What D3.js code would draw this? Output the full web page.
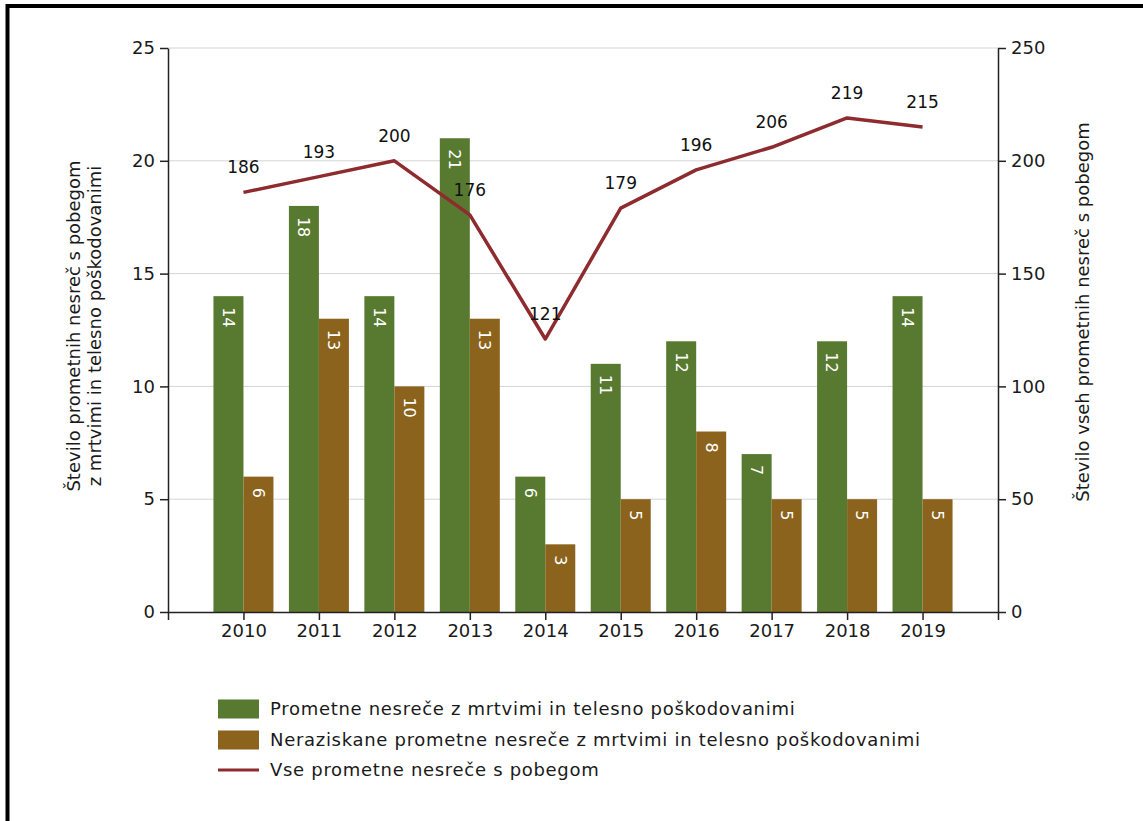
<!DOCTYPE html>
<html>
<head>
<meta charset="utf-8">
<script src="https://cdn.jsdelivr.net/npm/d3@7"></script>
<style>
  html, body { margin: 0; padding: 0; background: #fff; }
  svg text { font-family: "DejaVu Sans", Verdana, sans-serif; }
</style>
</head>
<body>
<svg id="chart" width="1143" height="821"></svg>
<script>
const years = ["2010","2011","2012","2013","2014","2015","2016","2017","2018","2019"];
const accidents = [14, 18, 14, 21, 6, 11, 12, 7, 12, 14];
const unsolved = [6, 13, 10, 13, 3, 5, 8, 5, 5, 5];
const allHitRun = [186, 193, 200, 176, 121, 179, 196, 206, 219, 215];
const leftTicks = [0, 5, 10, 15, 20, 25];
const rightTicks = [0, 50, 100, 150, 200, 250];
const seriesNames = [
  "Prometne nesreče z mrtvimi in telesno poškodovanimi",
  "Neraziskane prometne nesreče z mrtvimi in telesno poškodovanimi",
  "Vse prometne nesreče s pobegom"
];
const leftTitle = ["Število prometnih nesreč s pobegom", "z mrtvimi in telesno poškodovanimi"];
const rightTitle = "Število vseh prometnih nesreč s pobegom";

const colors = { green: "#577a30", brown: "#8b631c", line: "#8e2b2e" };

const svg = d3.select("#chart");
const pLeft = 168, pRight = 998, pTop = 48, pBottom = 612;

// frame (left & top edges)
svg.append("path").attr("d", `M7.5,821V6H1143`).attr("fill", "none")
  .attr("stroke", "#000").attr("stroke-width", 4);

const x = d3.scalePoint().domain(years).range([pLeft, pRight]).padding(1);
const yL = d3.scaleLinear().domain([0, 25]).range([pBottom, pTop]);
const yR = d3.scaleLinear().domain([0, 250]).range([pBottom, pTop]);
const sub = d3.scaleBand().domain(["a", "b"]).range([-30, 30]);

// gridlines
svg.append("g").selectAll("line").data(leftTicks.filter(d => d > 0)).join("line")
  .attr("x1", pLeft).attr("x2", pRight)
  .attr("y1", d => yL(d)).attr("y2", d => yL(d))
  .attr("stroke", "#d4d4d4").attr("stroke-width", 1);

// bars
const barData = years.flatMap((y, i) => [
  { year: y, key: "a", v: accidents[i], c: colors.green },
  { year: y, key: "b", v: unsolved[i], c: colors.brown }
]);
svg.append("g").selectAll("rect").data(barData).join("rect")
  .attr("x", d => x(d.year) + sub(d.key))
  .attr("width", sub.bandwidth())
  .attr("y", d => yL(d.v))
  .attr("height", d => pBottom - yL(d.v))
  .attr("fill", d => d.c);

// bar labels (rotated)
svg.append("g").selectAll("text").data(barData).join("text")
  .attr("transform", d => `translate(${x(d.year) + sub(d.key) + sub.bandwidth() / 2},${yL(d.v) + 11}) rotate(90)`)
  .attr("dy", "0.35em")
  .attr("text-anchor", "start")
  .attr("fill", "#fff")
  .attr("font-size", 16)
  .text(d => d.v);

// line
const line = d3.line().x((d, i) => x(years[i])).y(d => yR(d));
svg.append("path").datum(allHitRun).attr("d", line)
  .attr("fill", "none").attr("stroke", colors.line).attr("stroke-width", 3.5)
  .attr("stroke-linejoin", "round");

svg.append("g").selectAll("text").data(allHitRun).join("text")
  .attr("x", (d, i) => x(years[i]))
  .attr("y", d => yR(d) - 25)
  .attr("dy", "0.35em")
  .attr("text-anchor", "middle")
  .attr("fill", "#111")
  .attr("font-size", 17)
  .text(d => d);

// axes
function styleAxis(g) {
  g.selectAll("path, line").attr("stroke", "#222").attr("stroke-width", 1.5);
  g.selectAll("text").attr("fill", "#1a1a1a").attr("font-size", 18)
    .attr("font-family", "DejaVu Sans, Verdana, sans-serif");
}
svg.append("g").attr("transform", `translate(${pLeft},0)`)
  .call(d3.axisLeft(yL).tickValues(leftTicks).tickSize(8).tickSizeOuter(0).tickPadding(5))
  .call(styleAxis);
svg.append("g").attr("transform", `translate(${pRight},0)`)
  .call(d3.axisRight(yR).tickValues(rightTicks).tickSize(8).tickSizeOuter(0).tickPadding(5))
  .call(styleAxis);
svg.append("g").attr("transform", `translate(0,${pBottom})`)
  .call(d3.axisBottom(x).tickSize(8).tickSizeOuter(8).tickPadding(4))
  .call(styleAxis);

// axis titles
const lt = svg.append("text").attr("transform", "translate(74,326) rotate(-90)")
  .attr("text-anchor", "middle").attr("fill", "#1a1a1a").attr("font-size", 18);
leftTitle.forEach((t, i) => lt.append("tspan").attr("x", 0).attr("dy", i === 0 ? "0.35em" : "1.15em").text(t));
svg.append("text").attr("transform", "translate(1083,312) rotate(-90)")
  .attr("text-anchor", "middle").attr("dy", "0.35em").attr("fill", "#1a1a1a").attr("font-size", 18)
  .text(rightTitle);

// legend
const legend = svg.append("g");
const rows = [709, 740, 770];
seriesNames.forEach((name, i) => {
  const g = legend.append("g").attr("transform", `translate(218,${rows[i]})`);
  if (i < 2) {
    g.append("rect").attr("x", 0).attr("y", -9.5).attr("width", 41).attr("height", 19)
      .attr("fill", i === 0 ? colors.green : colors.brown);
  } else {
    g.append("line").attr("x1", 0).attr("x2", 41).attr("y1", 0).attr("y2", 0)
      .attr("stroke", colors.line).attr("stroke-width", 3);
  }
  g.append("text").attr("x", 52).attr("dy", "0.35em").attr("fill", "#1a1a1a")
    .attr("font-size", 18).attr("letter-spacing", "0.7px").text(name);
});
</script>
</body>
</html>
